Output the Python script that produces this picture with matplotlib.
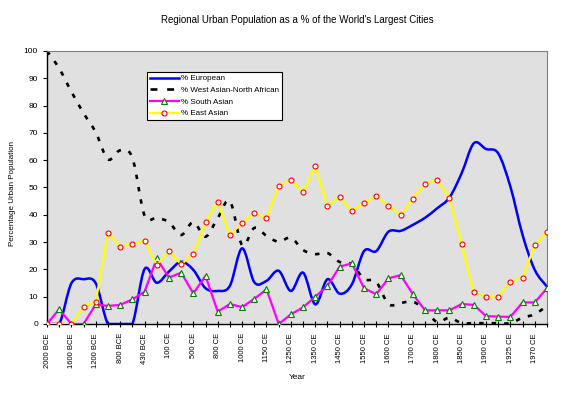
"""Regional urban population share of the world's largest cities (Excel-style line chart)."""
import matplotlib
matplotlib.use("Agg")
import matplotlib.pyplot as plt
from matplotlib.lines import Line2D
from matplotlib.patches import PathPatch
from matplotlib.path import Path

plt.rcParams["font.family"] = ["Liberation Sans", "DejaVu Sans"]
plt.rcParams["lines.scale_dashes"] = False

years = [
    "2000 BCE", "1800 BCE", "1600 BCE", "1400 BCE", "1200 BCE", "1000 BCE",
    "800 BCE", "650 BCE", "430 BCE", "200 BCE", "100 CE", "361 CE",
    "500 CE", "622 CE", "800 CE", "900 CE", "1000 CE", "1100 CE",
    "1150 CE", "1200 CE", "1250 CE", "1300 CE", "1350 CE", "1400 CE",
    "1450 CE", "1500 CE", "1550 CE", "1575 CE", "1600 CE", "1650 CE",
    "1700 CE", "1750 CE", "1800 CE", "1825 CE", "1850 CE", "1875 CE",
    "1900 CE", "1914 CE", "1925 CE", "1950 CE", "1970 CE", "2000 CE",
]

european = [
    0, 0, 14.9, 16.4, 14.9, 0, 0, 0, 20.1, 15.1, 19.2, 22.8,
    19.8, 13.1, 12.1, 14.0, 27.7, 15.3, 15.8, 19.5, 12.1, 18.8, 7.2, 16.4,
    11.1, 14.5, 26.7, 26.7, 33.8, 34.1, 36.3, 38.9, 42.4, 46.3, 55.2, 66.2,
    64.1, 62.5, 50.3, 32.6, 19.8, 13.7,
]
west_asian = [
    100, 93.6, 85.1, 77.2, 70.2, 60.3, 63.6, 60.9, 39.7, 38.9, 37.3, 32.6,
    37.3, 32.0, 38.8, 45.0, 28.9, 35.2, 32.3, 30.1, 31.6, 27.1, 25.6, 26.0,
    22.7, 21.9, 16.5, 15.4, 7.3, 7.7, 8.2, 5.1, 0.7, 2.3, 0.3, 0.3,
    0.3, 0.3, 0.3, 2.3, 3.6, 6.6,
]
south_asian = [
    0, 5.4, 0, 0, 7.2, 6.6, 7.0, 9.0, 11.8, 24.0, 17.0, 18.8,
    11.2, 17.6, 4.5, 7.3, 6.2, 9.2, 12.7, 0, 3.5, 6.1, 10.0, 13.9,
    21.0, 22.2, 13.1, 10.9, 16.7, 17.9, 10.9, 5.0, 5.0, 5.0, 7.3, 7.0,
    2.9, 2.7, 2.6, 7.9, 7.9, 13.1,
]
east_asian = [
    0, 0, 0, 6.3, 8.2, 33.5, 28.3, 29.4, 30.5, 21.6, 26.7, 21.9,
    25.5, 37.2, 44.8, 32.6, 37.1, 40.5, 38.7, 50.7, 52.7, 48.2, 57.9, 43.1,
    46.5, 41.4, 44.3, 46.8, 43.3, 39.8, 45.8, 51.4, 52.7, 46.3, 29.3, 11.6,
    10.0, 10.0, 15.5, 17.0, 28.9, 33.7,
]


def smooth_path(xs, ys, floor=0.0):
    """Excel-like smoothed line: Catmull-Rom segments as cubic Beziers.

    Control points are kept above `floor` so flat runs on the axis stay visible.
    """
    n = len(xs)
    verts = [(xs[0], ys[0])]
    codes = [Path.MOVETO]
    for i in range(n - 1):
        a = max(i - 1, 0)
        d = min(i + 2, n - 1)
        c1 = (xs[i] + (xs[i + 1] - xs[a]) / 6,
              max(floor, ys[i] + (ys[i + 1] - ys[a]) / 6))
        c2 = (xs[i + 1] - (xs[d] - xs[i]) / 6,
              max(floor, ys[i + 1] - (ys[d] - ys[i]) / 6))
        verts += [c1, c2, (xs[i + 1], ys[i + 1])]
        codes += [Path.CURVE4] * 3
    return Path(verts, codes)


def main():
    x = list(range(len(years)))
    fig = plt.figure(figsize=(5.76, 3.94), dpi=100)
    ax = fig.add_axes([0.0816, 0.1777, 0.868, 0.6929])
    ax.set_facecolor("#e0e0e0")

    dash = (0, (3.2, 5.8))
    ax.add_patch(PathPatch(smooth_path(x, european), facecolor="none",
                           edgecolor="#0000ff", linewidth=1.8, zorder=2))
    ax.add_patch(PathPatch(smooth_path(x, west_asian), facecolor="none",
                           edgecolor="black", linewidth=1.9, linestyle=dash, zorder=2))
    ax.plot(x, south_asian, color="#ff00ff", linewidth=1.6, marker="^",
            markersize=4, markerfacecolor="white", markeredgecolor="#008000",
            markeredgewidth=0.8, zorder=3)
    ax.plot(x, east_asian, color="#ffff00", linewidth=1.6, marker="o",
            markersize=3.6, markerfacecolor="white", markeredgecolor="#ff0000",
            markeredgewidth=0.8, zorder=4)

    ax.set_xlim(0, len(years) - 1)
    ax.set_ylim(0, 100)
    ax.set_xticks(x)
    ax.set_xticklabels([y if i % 2 == 0 else "" for i, y in enumerate(years)],
                       rotation=90, fontsize=5.5)
    ax.set_yticks(range(0, 101, 10))
    ax.tick_params(axis="y", labelsize=6, direction="out", length=3, width=0.8)
    ax.tick_params(axis="x", direction="inout", length=5, width=0.8, pad=4)

    for side in ("top", "right"):
        ax.spines[side].set_color("#808080")
    for side in ("left", "bottom"):
        ax.spines[side].set_color("black")
        ax.spines[side].set_linewidth(1.0)

    handles = [
        Line2D([], [], color="#0000ff", linewidth=1.8),
        Line2D([], [], color="black", linewidth=1.9, linestyle=(0, (5, 7))),
        Line2D([], [], color="#ff00ff", linewidth=1.6, marker="^", markersize=4,
               markerfacecolor="white", markeredgecolor="#008000", markeredgewidth=0.8),
        Line2D([], [], color="#ffff00", linewidth=1.6, marker="o", markersize=3.6,
               markerfacecolor="white", markeredgecolor="#ff0000", markeredgewidth=0.8),
    ]
    labels = ["% European", "% West Asian-North African", "% South Asian", "% East Asian"]
    leg = ax.legend(handles, labels, loc="upper left", bbox_to_anchor=(0.2, 0.923),
                    fontsize=5.8, frameon=True, fancybox=False, framealpha=1,
                    edgecolor="black", borderaxespad=0, handlelength=3.6,
                    labelspacing=0.5, handletextpad=0.3, borderpad=0.35)
    leg.get_frame().set_linewidth(0.8)

    fig.text(0.516, 0.949, "Regional Urban Population as a % of the World's Largest Cities",
             ha="center", va="center", fontsize=7)
    fig.text(0.516, 0.043, "Year", ha="center", va="center", fontsize=6)
    fig.text(0.021, 0.51, "Percentage Urban Population", ha="center", va="center",
             rotation=90, fontsize=5.8)

    fig.savefig("out.png", dpi=100)


if __name__ == "__main__":
    main()
